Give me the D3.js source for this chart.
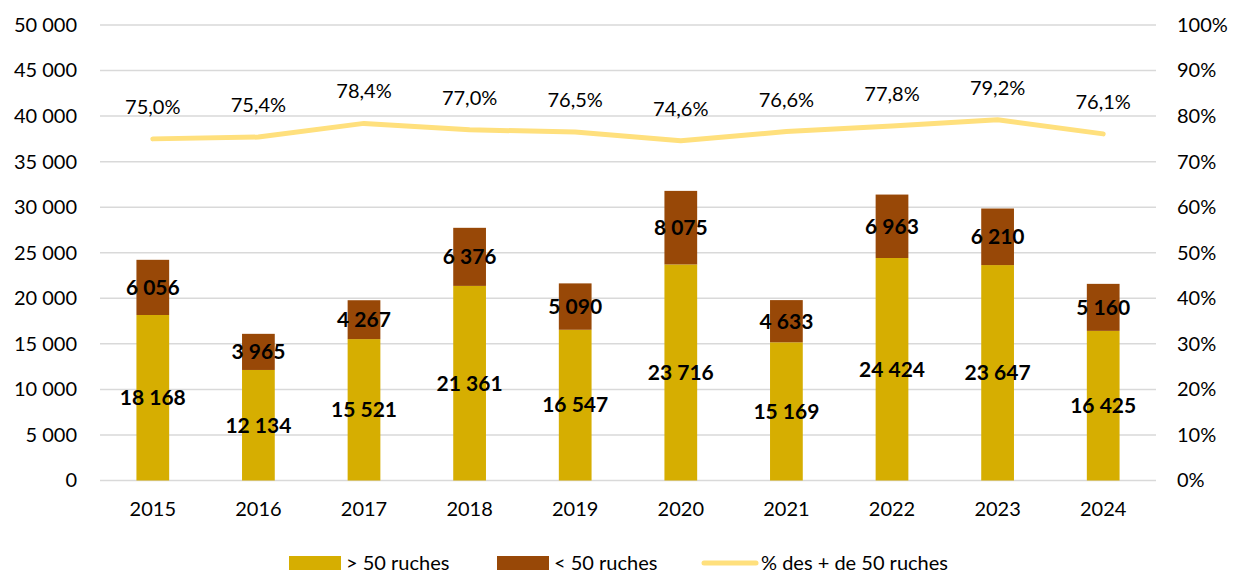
<!DOCTYPE html>
<html>
<head>
<meta charset="utf-8">
<script src="https://cdn.jsdelivr.net/npm/d3@7"></script>
<style>
  body { margin: 0; background: #fff; }
  svg text { font-family: Lato, "Open Sans", sans-serif; fill: #000; }
</style>
</head>
<body>
<div id="chart"></div>
<script>
var years = ["2015", "2016", "2017", "2018", "2019", "2020", "2021", "2022", "2023", "2024"];
var plus50 = [18168, 12134, 15521, 21361, 16547, 23716, 15169, 24424, 23647, 16425];
var minus50 = [6056, 3965, 4267, 6376, 5090, 8075, 4633, 6963, 6210, 5160];
var pct = [75.0, 75.4, 78.4, 77.0, 76.5, 74.6, 76.6, 77.8, 79.2, 76.1];
var leftTicks = [0, 5000, 10000, 15000, 20000, 25000, 30000, 35000, 40000, 45000, 50000];
var rightTicks = [0, 10, 20, 30, 40, 50, 60, 70, 80, 90, 100];

var colGold = "#D6AE01", colBrown = "#984807", colLine = "#FFE07D", colGrid = "#D9D9D9";

var W = 1235, H = 573;
var plot = { left: 100, right: 1156, top: 25, bottom: 480.5 };

var svg = d3.select("#chart").append("svg")
  .attr("width", W)
  .attr("height", H);

var x = d3.scaleBand().domain(years).range([plot.left, plot.right]).paddingInner(0.69).paddingOuter(0.345);
var y = d3.scaleLinear().domain([0, 50000]).range([plot.bottom, plot.top]);
var y2 = d3.scaleLinear().domain([0, 100]).range([plot.bottom, plot.top]);
var fmt = function(v) { return d3.format(",")(v).replace(/,/g, " "); };

// grid
svg.append("g").selectAll("line")
  .data(leftTicks)
  .enter().append("line")
  .attr("x1", plot.left).attr("x2", plot.right)
  .attr("y1", function(d) { return y(d); })
  .attr("y2", function(d) { return y(d); })
  .attr("stroke", colGrid)
  .attr("stroke-width", 1.5);

// left axis
var yAxis = d3.axisLeft(y).tickValues(leftTicks).tickSize(0).tickPadding(0).tickFormat(fmt);
svg.append("g")
  .attr("transform", "translate(77,0)")
  .call(yAxis)
  .call(function(g) { g.select(".domain").remove(); })
  .selectAll("text")
  .style("font-size", "20px")
  .attr("fill", "#000");

// right axis
var y2Axis = d3.axisRight(y2).tickValues(rightTicks).tickSize(0).tickPadding(0)
  .tickFormat(function(d) { return d + "%"; });
svg.append("g")
  .attr("transform", "translate(1177,0)")
  .call(y2Axis)
  .call(function(g) { g.select(".domain").remove(); })
  .selectAll("text")
  .style("font-size", "20px")
  .attr("fill", "#000");

// x axis
var xAxis = d3.axisBottom(x).tickSize(0).tickPadding(0);
svg.append("g")
  .attr("transform", "translate(0," + (plot.bottom + 21) + ")")
  .call(xAxis)
  .call(function(g) { g.select(".domain").remove(); })
  .selectAll("text")
  .style("font-size", "20px")
  .attr("fill", "#000");

// bars
var rows = years.map(function(yr, i) {
  return { year: yr, a: plus50[i], b: minus50[i], p: pct[i] };
});

var bars = svg.append("g");
bars.selectAll(".gold")
  .data(rows)
  .enter().append("rect")
  .attr("x", function(d) { return x(d.year); })
  .attr("width", x.bandwidth())
  .attr("y", function(d) { return y(d.a); })
  .attr("height", function(d) { return y(0) - y(d.a); })
  .attr("fill", colGold);

bars.selectAll(".brown")
  .data(rows)
  .enter().append("rect")
  .attr("x", function(d) { return x(d.year); })
  .attr("width", x.bandwidth())
  .attr("y", function(d) { return y(d.a + d.b); })
  .attr("height", function(d) { return y(d.a) - y(d.a + d.b); })
  .attr("fill", colBrown);

// bar labels
var lbl = svg.append("g")
  .style("font-size", "21px")
  .style("font-weight", "bold")
  .attr("text-anchor", "middle");

lbl.selectAll(".la")
  .data(rows)
  .enter().append("text")
  .attr("x", function(d) { return x(d.year) + x.bandwidth() / 2; })
  .attr("y", function(d) { return (y(0) + y(d.a)) / 2; })
  .attr("dy", "0.35em")
  .text(function(d) { return fmt(d.a); });

lbl.selectAll(".lb")
  .data(rows)
  .enter().append("text")
  .attr("x", function(d) { return x(d.year) + x.bandwidth() / 2; })
  .attr("y", function(d) { return (y(d.a) + y(d.a + d.b)) / 2; })
  .attr("dy", "0.35em")
  .text(function(d) { return fmt(d.b); });

// percent line
var line = d3.line()
  .x(function(d) { return x(d.year) + x.bandwidth() / 2; })
  .y(function(d) { return y2(d.p); });

svg.append("path")
  .datum(rows)
  .attr("d", line)
  .attr("fill", "none")
  .attr("stroke", colLine)
  .attr("stroke-width", 5)
  .attr("stroke-linecap", "round")
  .attr("stroke-linejoin", "round");

svg.append("g")
  .style("font-size", "20px")
  .attr("text-anchor", "middle")
  .selectAll("text")
  .data(rows)
  .enter().append("text")
  .attr("x", function(d) { return x(d.year) + x.bandwidth() / 2; })
  .attr("y", function(d) { return y2(d.p) - 32; })
  .attr("dy", "0.35em")
  .text(function(d) { return d.p.toFixed(1).replace(".", ",") + "%"; });

// legend
var legend = [
  { label: "> 50 ruches", x: 289, type: "rect", color: colGold },
  { label: "< 50 ruches", x: 497, type: "rect", color: colBrown },
  { label: "% des + de 50 ruches", x: 702, type: "line", color: colLine }
];
var lg = svg.append("g").selectAll("g")
  .data(legend)
  .enter().append("g")
  .attr("transform", function(d) { return "translate(" + d.x + ",563)"; });

lg.filter(function(d) { return d.type == "rect"; })
  .append("rect")
  .attr("x", 0).attr("y", -7)
  .attr("width", 52).attr("height", 14)
  .attr("fill", function(d) { return d.color; });

lg.filter(function(d) { return d.type == "line"; })
  .append("line")
  .attr("x1", 2).attr("x2", 54)
  .attr("y1", 0).attr("y2", 0)
  .attr("stroke", function(d) { return d.color; })
  .attr("stroke-width", 5)
  .attr("stroke-linecap", "round");

lg.append("text")
  .attr("x", function(d) { return d.type == "line" ? 59 : 57; })
  .attr("y", 0)
  .attr("dy", "0.33em")
  .style("font-size", "20px")
  .text(function(d) { return d.label; });
</script>
</body>
</html>
